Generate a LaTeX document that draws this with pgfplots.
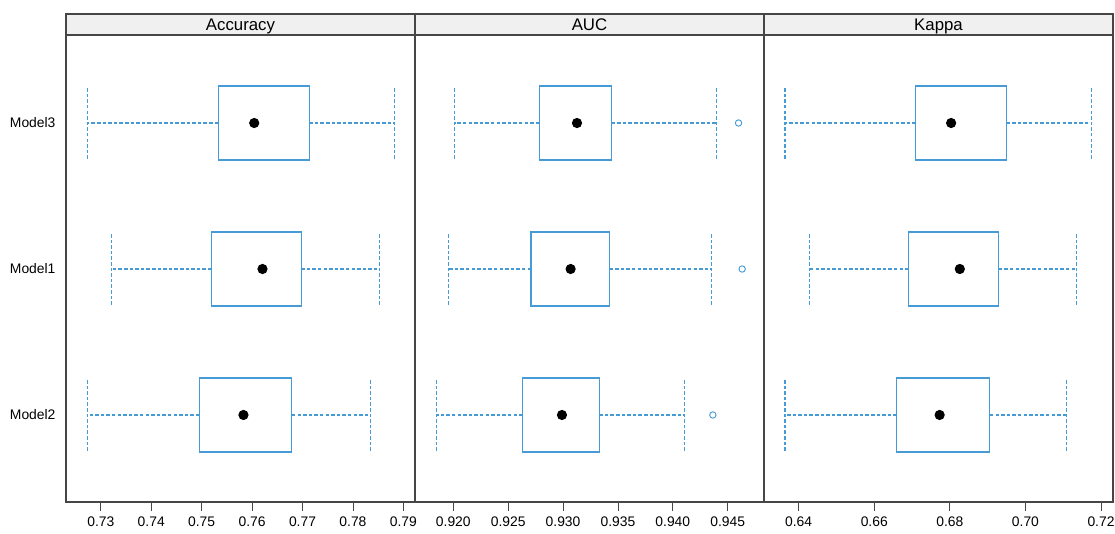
\documentclass[border=0pt]{standalone}
\usepackage{pgfplots}
\pgfplotsset{compat=1.18}
\usepgfplotslibrary{statistics}
\usepackage{fontspec}
\setmainfont{Liberation Sans}
\definecolor{bwblue}{RGB}{70,155,215}
\definecolor{frame}{RGB}{70,70,70}
\definecolor{stripbg}{RGB}{240,240,240}
\pgfplotsset{
  panel/.style={
    scale only axis, width=261.75pt, height=350.25pt, anchor=south west,
    ymin=0.404, ymax=3.603, ytick={1,2,3}, yticklabels={},
    ytick style={draw=none},
    xtick pos=left, tick align=outside, major tick length=6.4pt,
    xtick style={frame, line width=0.6pt},
    axis line style={frame, line width=0.8pt},
    ticklabel style={font=\fontsize{10.4}{12}\selectfont},
    xticklabel style={yshift=-1pt},
    /pgf/number format/assume math mode=true,
    clip=false,
    boxplot/box extend=0.507,
    boxplot/whisker extend=0.49,
    boxplot/every whisker/.style={dash pattern=on 2.6pt off 1.6pt},
    boxplot/draw/median/.code={\fill[black] (boxplot box cs:\pgfplotsboxplotvalue{median},0.5) circle[radius=3.4pt];},
  },
  bp/.style={draw=bwblue, line width=0.8pt, mark=o, mark size=2.4pt, mark options={solid, draw=bwblue, line width=0.7pt}},
}
\begin{document}
\begin{tikzpicture}
% Panel 1: Accuracy
\begin{axis}[panel, at={(49.5pt,24pt)}, xmin=0.7231, xmax=0.7923,
  xtick={0.73,0.74,0.75,0.76,0.77,0.78,0.79},
  xticklabel style={/pgf/number format/.cd, fixed, fixed zerofill, precision=2},
  yticklabels={Model2,Model1,Model3},
  yticklabel style={inner sep=0pt, xshift=-1.3pt}]
\addplot[bp, boxplot prepared={draw position=3, lower whisker=0.72728, lower quartile=0.75327, median=0.76042, upper quartile=0.77133, upper whisker=0.78819}] coordinates {};
\addplot[bp, boxplot prepared={draw position=2, lower whisker=0.73218, lower quartile=0.75195, median=0.76206, upper quartile=0.76974, upper whisker=0.78528}] coordinates {};
\addplot[bp, boxplot prepared={draw position=1, lower whisker=0.72734, lower quartile=0.74956, median=0.75829, upper quartile=0.76790, upper whisker=0.78343}] coordinates {};
\end{axis}
% Panel 2: AUC
\begin{axis}[panel, at={(311.25pt,24pt)}, xmin=0.91651, xmax=0.94831,
  xtick={0.920,0.925,0.930,0.935,0.940,0.945},
  xticklabel style={/pgf/number format/.cd, fixed, fixed zerofill, precision=3}]
\addplot[bp, boxplot prepared={draw position=3, lower whisker=0.92013, lower quartile=0.92783, median=0.93127, upper quartile=0.93443, upper whisker=0.94402}] table[row sep=\\, y index=0] {0.94599\\};
\addplot[bp, boxplot prepared={draw position=2, lower whisker=0.91958, lower quartile=0.92708, median=0.93069, upper quartile=0.93424, upper whisker=0.94356}] table[row sep=\\, y index=0] {0.94632\\};
\addplot[bp, boxplot prepared={draw position=1, lower whisker=0.91849, lower quartile=0.92632, median=0.92990, upper quartile=0.93330, upper whisker=0.94110}] table[row sep=\\, y index=0] {0.94365\\};
\end{axis}
% Panel 3: Kappa
\begin{axis}[panel, at={(573pt,24pt)}, xmin=0.63083, xmax=0.72317,
  xtick={0.64,0.66,0.68,0.70,0.72},
  xticklabel style={/pgf/number format/.cd, fixed, fixed zerofill, precision=2}]
\addplot[bp, boxplot prepared={draw position=3, lower whisker=0.63638, lower quartile=0.67101, median=0.68034, upper quartile=0.69499, upper whisker=0.71754}] coordinates {};
\addplot[bp, boxplot prepared={draw position=2, lower whisker=0.64291, lower quartile=0.66908, median=0.68264, upper quartile=0.69296, upper whisker=0.71350}] coordinates {};
\addplot[bp, boxplot prepared={draw position=1, lower whisker=0.63638, lower quartile=0.66600, median=0.67730, upper quartile=0.69060, upper whisker=0.71090}] coordinates {};
\end{axis}
% strips
\foreach \xx/\lab in {49.5/Accuracy, 311.25/AUC, 573/Kappa}{
  \draw[frame, line width=0.8pt, fill=stripbg] (\xx pt,374.25pt) rectangle ++(261.75pt,15.75pt);
  \node[font=\fontsize{12.6}{14}\selectfont, inner sep=0pt, anchor=base] at ([xshift=130.875pt]\xx pt,377.4pt) {\lab};
}
\pgfresetboundingbox
\useasboundingbox (0,0) rectangle (836.25pt,400.5pt);
\end{tikzpicture}
\end{document}
